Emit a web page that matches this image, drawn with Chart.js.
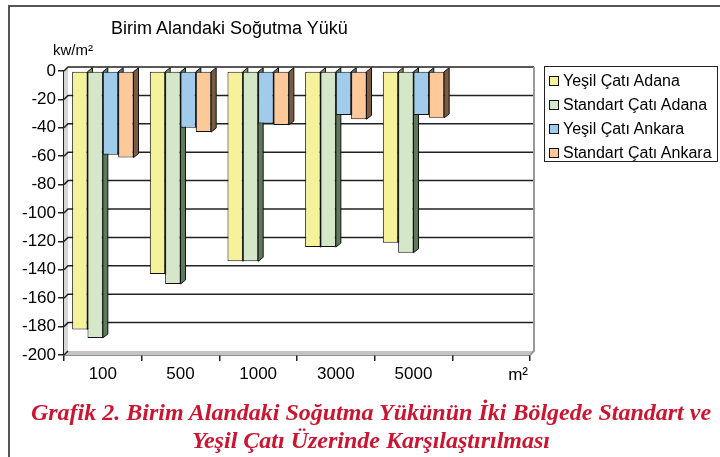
<!DOCTYPE html>
<html>
<head>
<meta charset="utf-8">
<script src="https://cdn.jsdelivr.net/npm/chart.js@4"></script>
<style>
  body { margin: 0; background: #fff; }
  #wrap { position: relative; width: 720px; height: 457px; overflow: hidden; font-family: "Liberation Sans", Arial, sans-serif; }
  #frame { position: absolute; left: 8px; top: 5px; width: 740px; height: 480px; border-left: 2px solid #555; border-top: 2px solid #555; }
  #chart { position: absolute; left: 0; top: 0; }
  .txt { position: absolute; color: #000; white-space: nowrap; }
  #legend { position: absolute; left: 544px; top: 66px; width: 174px; height: 96px; border: 1.5px solid #222; box-sizing: border-box; }
  .item { position: absolute; left: 4px; width: 168px; height: 20px; line-height: 20px; font-size: 16px; white-space: nowrap; }
  .item span.box { position: absolute; left: 0; top: 5px; width: 10px; height: 10px; border: 1.5px solid #111; box-sizing: border-box; }
  .item span.lbl { position: absolute; left: 14px; top: 0; white-space: nowrap; }
  #caption { position: absolute; left: 22px; width: 698px; top: 398px; text-align: center; font-family: "Liberation Serif", "Times New Roman", serif; font-weight: bold; font-style: italic; font-size: 24px; line-height: 28px; color: #cc1530; white-space: nowrap; }
</style>
</head>
<body>
<div id="wrap">
  <div id="frame"></div>
  <canvas id="chart" width="720" height="400"></canvas>
  <div class="txt" style="left:111px; top:17px; font-size:18px; line-height:22px;">Birim Alandaki Soğutma Yükü</div>
  <div class="txt" style="left:53px; top:41px; font-size:15px; line-height:18px;">kw/m²</div>
  <div class="txt" style="left:500px; top:365px; width:28px; text-align:right; font-size:17px; line-height:20px;">m²</div>
  <div id="legend"></div>
  <div id="caption">Grafik 2. Birim Alandaki Soğutma Yükünün İki Bölgede Standart ve<br>Yeşil Çatı Üzerinde Karşılaştırılması</div>
</div>
<script>
// categories (last slot is empty, as in the original)
const categories = ['100', '500', '1000', '3000', '5000', ''];

// kw/m2 values
const yesilAdana = [-182, -143, -134, -124, -121];
const standartAdana = [-188, -150, -134, -124, -128];
const yesilAnkara = [-59, -40, -37, -31, -31];
const standartAnkara = [-61, -43, -38, -34, -33];

const seriesNames = ['Yeşil Çatı Adana', 'Standart Çatı Adana', 'Yeşil Çatı Ankara', 'Standart Çatı Ankara'];
const seriesColors = ['#f6f29c', '#d4e7c9', '#a0cbeb', '#fdc998'];
const sideColors = ['#8c8a55', '#5e7a5a', '#52718f', '#7b5c40'];

const yTicks = [0, -20, -40, -60, -80, -100, -120, -140, -160, -180, -200];

const DEPTH = 4;

// fake 3D: walls, back gridlines and bar side faces
const threeD = {
    id: 'threeD',
    beforeDatasetsDraw(chart) {
        const ctx = chart.ctx;
        const area = chart.chartArea;
        const yScale = chart.scales.y;
        ctx.save();

        // left wall
        ctx.fillStyle = '#d6d6d6';
        ctx.beginPath();
        ctx.moveTo(area.left, area.top);
        ctx.lineTo(area.left + DEPTH, area.top - DEPTH);
        ctx.lineTo(area.left + DEPTH, area.bottom - DEPTH);
        ctx.lineTo(area.left, area.bottom);
        ctx.closePath();
        ctx.fill();

        // floor
        ctx.fillStyle = '#c4c4c4';
        ctx.beginPath();
        ctx.moveTo(area.left, area.bottom);
        ctx.lineTo(area.left + DEPTH, area.bottom - DEPTH);
        ctx.lineTo(area.right + DEPTH, area.bottom - DEPTH);
        ctx.lineTo(area.right, area.bottom);
        ctx.closePath();
        ctx.fill();

        // back wall gridlines
        ctx.strokeStyle = '#222';
        ctx.lineWidth = 1.5;
        yTicks.forEach(v => {
            const y = yScale.getPixelForValue(v);
            ctx.beginPath();
            ctx.moveTo(area.left, y);
            ctx.lineTo(area.left + DEPTH, y - DEPTH);
            if (v > -200) ctx.lineTo(area.right + DEPTH, y - DEPTH);
            ctx.stroke();
        });

        // right edge of back wall
        ctx.strokeStyle = '#9a9a9a';
        ctx.lineWidth = 2;
        ctx.beginPath();
        ctx.moveTo(area.right + DEPTH, area.top - DEPTH);
        ctx.lineTo(area.right + DEPTH, area.bottom - DEPTH);
        ctx.lineTo(area.right, area.bottom);
        ctx.stroke();

        // side faces of bars
        ctx.lineWidth = 1;
        ctx.strokeStyle = '#111';
        chart.data.datasets.forEach((ds, i) => {
            const meta = chart.getDatasetMeta(i);
            meta.data.forEach(bar => {
                const p = bar.getProps(['x', 'y', 'base', 'width'], true);
                const r = p.x + p.width / 2;
                ctx.fillStyle = sideColors[i];
                ctx.beginPath();
                ctx.moveTo(r, p.base);
                ctx.lineTo(r + DEPTH + 1, p.base - DEPTH);
                ctx.lineTo(r + DEPTH + 1, p.y - DEPTH);
                ctx.lineTo(r, p.y);
                ctx.closePath();
                ctx.fill();
                ctx.stroke();
            });
        });
        ctx.restore();
    }
};

const datasets = [yesilAdana, standartAdana, yesilAnkara, standartAnkara].map((values, i) => ({
    label: seriesNames[i],
    data: values,
    backgroundColor: seriesColors[i],
    borderColor: '#111',
    borderWidth: 1,
    borderSkipped: false,
    categoryPercentage: 0.79,
    barPercentage: 1
}));

new Chart(document.getElementById('chart'), {
    type: 'bar',
    data: { labels: categories, datasets: datasets },
    options: {
        responsive: false,
        animation: false,
        devicePixelRatio: 1,
        layout: { padding: { left: 0, right: 190, top: 71, bottom: 15 } },
        plugins: { legend: { display: false }, tooltip: { enabled: false } },
        scales: {
            x: {
                afterFit: scale => { scale.height = 30; },
                grid: { offset: true, drawOnChartArea: false, drawTicks: true, tickLength: 6, tickColor: '#222', lineWidth: 1.5 },
                border: { display: true, color: '#222', width: 1.5 },
                ticks: { color: '#000', font: { family: 'Liberation Sans', size: 17 }, padding: 3 }
            },
            y: {
                min: -200,
                max: 0,
                afterFit: scale => { scale.width = 64; },
                afterBuildTicks: scale => { scale.ticks = yTicks.map(v => ({ value: v })); },
                grid: { drawOnChartArea: false, drawTicks: true, tickLength: 6, tickColor: '#222', lineWidth: 1.5 },
                border: { display: true, color: '#222', width: 1.5 },
                ticks: { color: '#000', font: { family: 'Liberation Sans', size: 17 }, padding: 2 }
            }
        }
    },
    plugins: [threeD]
});

// legend
const legend = document.getElementById('legend');
seriesNames.forEach((name, i) => {
    const item = document.createElement('div');
    item.className = 'item';
    item.style.top = (4 + i * 24) + 'px';
    item.innerHTML = `<span class="box" style="background:${seriesColors[i]}"></span><span class="lbl">${name}</span>`;
    legend.appendChild(item);
});
</script>
</body>
</html>
